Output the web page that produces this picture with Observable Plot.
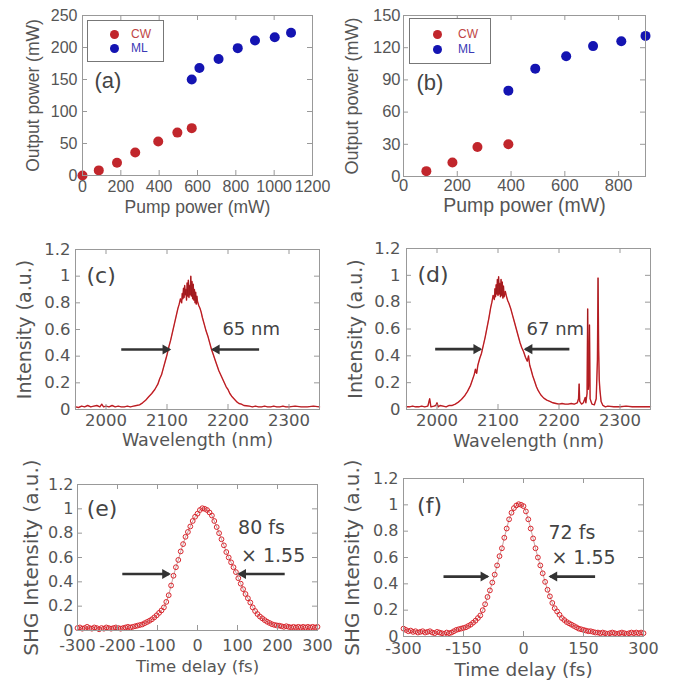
<!DOCTYPE html>
<html><head><meta charset="utf-8">
<script src="https://cdn.jsdelivr.net/npm/d3@7"></script>
<script src="https://cdn.jsdelivr.net/npm/@observablehq/plot@0.6"></script>
<style>
body{margin:0;background:#fff;}
#fig{position:relative;width:674px;height:683px;overflow:hidden;background:#fff;}
.panel{position:absolute;}
.legend{position:absolute;border:1px solid #777;background:#fff;font-family:"Liberation Sans",Arial,sans-serif;font-size:12px;}
.legend .dot{position:absolute;width:9px;height:9px;border-radius:50%;}
.legend .lab{position:absolute;line-height:12px;}
</style></head><body><div id="fig"></div>
<script>
// ---------- data ----------
const aCwPump = [0, 85, 180, 275, 395, 495, 570];
const aCwOut  = [0, 8, 20, 36, 53, 67, 74];
const aMlPump = [570, 610, 710, 810, 900, 1003, 1088];
const aMlOut  = [150, 168, 182, 199, 211, 216, 223];

const bCwPump = [85, 182, 275, 390];
const bCwOut  = [5, 13, 27.5, 30];
const bMlPump = [390, 490, 605, 705, 810, 900];
const bMlOut  = [80, 100.5, 112, 121.5, 126, 131];

const seriesNames = ["CW", "ML"];

const aXTicks = [0, 200, 400, 600, 800, 1000, 1200];
const aYTicks = [0, 50, 100, 150, 200, 250];
const bXTicks = [0, 200, 400, 600, 800];
const bYTicks = [0, 30, 60, 90, 120, 150];
const specXTicks = [2000, 2100, 2200, 2300];
const unitYTicks = [0, 0.2, 0.4, 0.6, 0.8, 1, 1.2];
const eXTicks = [-300, -200, -100, 0, 100, 200, 300];
const fXTicks = [-300, -150, 0, 150, 300];

const cSpectrum = [[1950,0.02],[1955,0.015],[1960,0.025],[1965,0.02],[1970,0.03],[1975,0.02],[1980,0.025],[1985,0.03],[1990,0.02],[1993,0.04],[1996,0.02],[2000,0.025],[2005,0.02],[2010,0.03],[2015,0.02],[2020,0.025],[2025,0.02],[2030,0.02],[2035,0.025],[2040,0.02],[2045,0.025],[2050,0.03],[2055,0.035],[2060,0.05],[2065,0.07],[2070,0.095],[2075,0.12],[2080,0.15],[2085,0.19],[2088,0.23],[2091,0.26],[2094,0.31],[2097,0.36],[2100,0.41],[2103,0.47],[2106,0.52],[2109,0.58],[2112,0.64],[2115,0.70],[2118,0.76],[2120,0.79],[2122,0.83],[2124,0.80],[2125,0.87],[2126,0.83],[2127,0.91],[2128,0.84],[2129,0.93],[2130,0.86],[2131,0.90],[2132,0.82],[2133,0.95],[2134,0.85],[2135,0.97],[2136,0.84],[2137,0.93],[2138,0.86],[2139,1.0],[2140,0.85],[2141,0.96],[2142,0.83],[2143,0.94],[2144,0.82],[2145,0.90],[2146,0.80],[2147,0.88],[2148,0.79],[2149,0.85],[2150,0.81],[2152,0.78],[2154,0.76],[2156,0.73],[2158,0.69],[2161,0.64],[2164,0.59],[2167,0.55],[2170,0.50],[2173,0.45],[2176,0.41],[2179,0.37],[2182,0.33],[2185,0.29],[2188,0.26],[2191,0.23],[2194,0.20],[2197,0.17],[2200,0.15],[2203,0.12],[2206,0.10],[2209,0.085],[2212,0.07],[2215,0.055],[2218,0.045],[2222,0.04],[2226,0.03],[2230,0.028],[2235,0.025],[2240,0.02],[2245,0.025],[2250,0.02],[2255,0.02],[2260,0.025],[2265,0.02],[2270,0.02],[2275,0.025],[2280,0.02],[2285,0.02],[2290,0.025],[2295,0.02],[2300,0.02],[2310,0.025],[2320,0.02],[2330,0.02],[2340,0.025],[2350,0.02]];

const dSpectrum = [[1950,0.02],[1955,0.02],[1960,0.025],[1965,0.02],[1970,0.02],[1975,0.025],[1980,0.02],[1985,0.025],[1988,0.08],[1990,0.02],[1995,0.025],[1998,0.03],[2000,0.05],[2002,0.02],[2005,0.03],[2010,0.025],[2015,0.02],[2020,0.03],[2025,0.03],[2030,0.04],[2035,0.055],[2040,0.075],[2045,0.1],[2050,0.135],[2055,0.18],[2058,0.22],[2061,0.26],[2063,0.30],[2065,0.27],[2067,0.33],[2070,0.38],[2073,0.42],[2076,0.48],[2079,0.54],[2082,0.61],[2085,0.68],[2088,0.76],[2090,0.80],[2092,0.85],[2094,0.82],[2095,0.90],[2096,0.84],[2097,0.93],[2098,0.86],[2099,0.97],[2100,0.85],[2101,0.99],[2102,0.86],[2103,0.94],[2104,0.84],[2105,0.97],[2106,0.85],[2107,0.95],[2108,0.83],[2109,0.92],[2110,0.84],[2112,0.88],[2114,0.84],[2116,0.81],[2118,0.79],[2121,0.75],[2124,0.70],[2127,0.65],[2130,0.60],[2133,0.55],[2136,0.50],[2139,0.46],[2142,0.43],[2145,0.39],[2148,0.36],[2150,0.40],[2152,0.33],[2154,0.30],[2157,0.25],[2160,0.21],[2163,0.17],[2166,0.14],[2170,0.11],[2175,0.085],[2180,0.07],[2185,0.06],[2190,0.05],[2195,0.045],[2200,0.04],[2205,0.045],[2210,0.04],[2215,0.04],[2220,0.045],[2225,0.04],[2230,0.05],[2232,0.08],[2233,0.19],[2234,0.06],[2237,0.04],[2240,0.05],[2243,0.09],[2244,0.05],[2246,0.12],[2247,0.75],[2248,0.15],[2249,0.2],[2250,0.63],[2251,0.08],[2254,0.04],[2258,0.035],[2261,0.08],[2263,0.37],[2264,0.98],[2265,0.45],[2266,0.22],[2267,0.15],[2269,0.06],[2272,0.03],[2276,0.02],[2280,0.025],[2290,0.02],[2300,0.02],[2310,0.025],[2320,0.02],[2330,0.02],[2340,0.02],[2350,0.02]];

const eTrace = [[-300,0.02],[-294,0.025],[-288,0.015],[-282,0.02],[-276,0.03],[-270,0.02],[-264,0.015],[-258,0.025],[-252,0.02],[-246,0.01],[-240,0.02],[-234,0.015],[-228,0.025],[-222,0.02],[-216,0.015],[-210,0.02],[-204,0.025],[-198,0.02],[-192,0.015],[-186,0.02],[-180,0.025],[-174,0.03],[-168,0.025],[-162,0.03],[-156,0.035],[-150,0.04],[-144,0.045],[-138,0.05],[-132,0.06],[-126,0.07],[-120,0.08],[-114,0.092],[-108,0.108],[-102,0.125],[-96,0.145],[-90,0.165],[-84,0.19],[-78,0.235],[-72,0.29],[-66,0.37],[-60,0.45],[-54,0.52],[-48,0.58],[-42,0.65],[-36,0.71],[-30,0.77],[-24,0.81],[-18,0.855],[-12,0.90],[-6,0.935],[0,0.96],[6,0.99],[12,1.005],[18,1.0],[24,0.99],[30,0.97],[36,0.945],[42,0.90],[48,0.85],[54,0.80],[60,0.75],[66,0.70],[72,0.645],[78,0.60],[84,0.56],[90,0.52],[96,0.48],[102,0.43],[108,0.385],[114,0.34],[120,0.30],[126,0.265],[132,0.23],[138,0.19],[144,0.16],[150,0.135],[156,0.115],[162,0.10],[168,0.085],[174,0.072],[180,0.062],[186,0.052],[192,0.046],[198,0.042],[204,0.04],[210,0.035],[216,0.03],[222,0.035],[228,0.03],[234,0.025],[240,0.03],[246,0.025],[252,0.03],[258,0.025],[264,0.03],[270,0.025],[276,0.03],[282,0.025],[288,0.03],[294,0.025],[300,0.03]];

const fTrace = [[-300,0.06],[-294,0.05],[-288,0.04],[-282,0.045],[-276,0.035],[-270,0.04],[-264,0.03],[-258,0.035],[-252,0.04],[-246,0.03],[-240,0.035],[-234,0.04],[-228,0.03],[-222,0.025],[-216,0.035],[-210,0.03],[-204,0.025],[-198,0.02],[-192,0.03],[-186,0.025],[-180,0.03],[-174,0.04],[-168,0.05],[-162,0.055],[-156,0.06],[-150,0.065],[-144,0.07],[-138,0.08],[-132,0.09],[-126,0.105],[-120,0.12],[-114,0.14],[-108,0.16],[-102,0.20],[-96,0.245],[-90,0.30],[-84,0.35],[-78,0.41],[-72,0.47],[-66,0.54],[-60,0.61],[-54,0.67],[-48,0.75],[-42,0.82],[-36,0.89],[-30,0.94],[-24,0.975],[-18,0.995],[-12,1.005],[-6,1.0],[0,0.99],[6,0.95],[12,0.89],[18,0.82],[24,0.745],[30,0.67],[36,0.60],[42,0.54],[48,0.48],[54,0.415],[60,0.355],[66,0.305],[72,0.255],[78,0.215],[84,0.19],[90,0.165],[96,0.14],[102,0.125],[108,0.11],[114,0.10],[120,0.09],[126,0.08],[132,0.07],[138,0.06],[144,0.055],[150,0.05],[156,0.045],[162,0.04],[168,0.04],[174,0.035],[180,0.03],[186,0.03],[192,0.025],[198,0.03],[204,0.025],[210,0.02],[216,0.025],[222,0.03],[228,0.025],[234,0.02],[240,0.025],[246,0.03],[252,0.025],[258,0.02],[264,0.025],[270,0.03],[276,0.025],[282,0.03],[288,0.025],[294,0.03],[300,0.025]];

// FWHM arrows: [from, to, level]
const cArrows = [[2025, 2104, 0.45], [2251, 2175, 0.45]];
const dArrows = [[1997, 2071, 0.45], [2217, 2145, 0.45]];
const eArrows = [[-188, -71, 0.465], [218, 104, 0.465]];
const fArrows = [[-200, -90, 0.455], [179, 67, 0.455]];

// annotations: [text, x, y]
const cNotes = [["65 nm", 2238, 0.6]];
const dNotes = [["67 nm", 2194, 0.6]];
const eNotes = [["80 fs", 160, 0.846], ["\u00d7 1.55", 189, 0.615]];
const fNotes = [["72 fs", 121, 0.79], ["\u00d7 1.55", 150, 0.60]];

// panel labels: [text, x, y]
const aTag = ["(a)", 62, 148];
const bTag = ["(b)", 48, 87];
const cTag = ["(c)", 1968, 1.0];
const dTag = ["(d)", 1968, 1.0];
const eTag = ["(e)", -277, 1.0];
const fTag = ["(f)", -266, 0.995];

// ---------- drawing ----------
const GRAY = "#555";
const FRAME = "#999";
const RED = "#d9262d";
const CW = "#c1262c";
const ML = "#1414b2";
const ARROW = "#333";
const fig = document.getElementById("fig");
const fmt = d => String(d);

function panel(o) {
  const innerW = o.width - o.ml - o.mr;
  const innerH = o.height - o.mt - o.mb;
  const marks = [
    ...o.marks,
    Plot.frame({stroke: FRAME}),
    Plot.tickX(o.xTicks, {x: d => d, insetTop: innerH - 5, stroke: FRAME}),
    Plot.tickX(o.xTicks, {x: d => d, insetBottom: innerH - 5, stroke: FRAME}),
    Plot.tickY(o.yTicks, {y: d => d, insetRight: innerW - 5, stroke: FRAME}),
    Plot.tickY(o.yTicks, {y: d => d, insetLeft: innerW - 5, stroke: FRAME}),
    Plot.axisX({ticks: o.xTicks, tickSize: 0, tickPadding: o.xPad, tickFormat: fmt, fontSize: o.tickFont, label: null, fill: GRAY}),
    Plot.axisY({ticks: o.yTicks, tickSize: 0, tickPadding: o.yPad, tickFormat: fmt, fontSize: o.tickFont, label: null, fill: GRAY}),
    Plot.text([o.xLabel], {frameAnchor: "bottom", lineAnchor: "middle", textAnchor: "middle", dy: o.xLabelDy, fontSize: o.xLabelFont, fill: GRAY}),
    Plot.text([o.yLabel], {frameAnchor: "left", lineAnchor: "middle", textAnchor: "middle", rotate: -90, dx: o.yLabelDx, fontSize: o.yLabelFont, fill: GRAY}),
    Plot.text([o.tag], {x: d => d[1], y: d => d[2], text: d => d[0], textAnchor: "start", fontSize: 22, fill: "#444"})
  ];
  const svg = Plot.plot({
    width: o.width, height: o.height,
    marginLeft: o.ml, marginRight: o.mr, marginTop: o.mt, marginBottom: o.mb,
    x: {domain: o.xDomain}, y: {domain: o.yDomain},
    style: {fontFamily: o.font, color: GRAY, background: "transparent", overflow: "visible"},
    marks
  });
  const wrap = document.createElement("div");
  wrap.className = "panel";
  wrap.style.left = o.left + "px";
  wrap.style.top = o.top + "px";
  wrap.appendChild(svg);
  fig.appendChild(wrap);
}

function scatterMarks(cwX, cwY, mlX, mlY) {
  const pts = [
    ...cwX.map((x, i) => ({x, y: cwY[i], s: seriesNames[0]})),
    ...mlX.map((x, i) => ({x, y: mlY[i], s: seriesNames[1]}))
  ];
  return [Plot.dot(pts, {x: "x", y: "y", r: 5, fill: d => d.s === "CW" ? CW : ML})];
}

function arrowMarks(arr) {
  const right = arr.filter(d => d[1] > d[0]);
  const left = arr.filter(d => d[1] < d[0]);
  return [
    Plot.link(arr, {x1: d => d[0], x2: d => d[1], y1: d => d[2], y2: d => d[2], stroke: ARROW, strokeWidth: 2.6}),
    Plot.dot(right, {x: d => d[1], y: d => d[2], symbol: "triangle2", r: 4.8, rotate: 90, fill: ARROW, dx: -4}),
    Plot.dot(left, {x: d => d[1], y: d => d[2], symbol: "triangle2", r: 4.8, rotate: -90, fill: ARROW, dx: 4})
  ];
}

function noteMarks(notes, size) {
  return [Plot.text(notes, {x: d => d[1], y: d => d[2], text: d => d[0], fontSize: size, fill: "#444"})];
}

function spectrumMarks(data) {
  return [
    Plot.line(data, {x: d => d[0], y: d => d[1], stroke: RED, strokeWidth: 1.4}),
    Plot.line(data, {x: d => d[0], y: d => d[1], stroke: "#6a1414", strokeWidth: 0.6, strokeOpacity: 0.6})
  ];
}

function traceMarks(data) {
  return [
    Plot.line(data, {x: d => d[0], y: d => d[1], stroke: "#7a1a1a", strokeWidth: 0.7, strokeOpacity: 0.6}),
    Plot.dot(data, {x: d => d[0], y: d => d[1], r: 2.4, stroke: RED, strokeWidth: 1, fill: "none"})
  ];
}

const SANS = "'Liberation Sans', Arial, sans-serif";
const WIDE = "'DejaVu Sans', sans-serif";

panel({left: 0, top: 0, width: 337, height: 230, ml: 82, mr: 25, mt: 15, mb: 55,
  xDomain: [0, 1200], yDomain: [0, 250], xTicks: aXTicks, yTicks: aYTicks,
  font: SANS, tickFont: 16, xPad: 5, yPad: 5,
  xLabel: "Pump power (mW)", yLabel: "Output power (mW)", xLabelDy: 32, yLabelDx: -49, xLabelFont: 17.5, yLabelFont: 17.5,
  tag: aTag, marks: scatterMarks(aCwPump, aCwOut, aMlPump, aMlOut)});

panel({left: 337, top: 0, width: 337, height: 230, ml: 66, mr: 29, mt: 15, mb: 54,
  xDomain: [0, 900], yDomain: [0, 150], xTicks: bXTicks, yTicks: bYTicks,
  font: SANS, tickFont: 16.5, xPad: 3, yPad: 3,
  xLabel: "Pump power (mW)", yLabel: "Output power (mW)", xLabelDy: 29, yLabelDx: -51, xLabelFont: 19.5, yLabelFont: 18,
  tag: bTag, marks: scatterMarks(bCwPump, bCwOut, bMlPump, bMlOut)});

panel({left: 0, top: 230, width: 337, height: 230, ml: 75, mr: 18, mt: 19, mb: 51,
  xDomain: [1950, 2350], yDomain: [0, 1.2], xTicks: specXTicks, yTicks: unitYTicks,
  font: WIDE, tickFont: 16.5, xPad: 5, yPad: 5,
  xLabel: "Wavelength (nm)", yLabel: "Intensity (a.u.)", xLabelDy: 31, yLabelDx: -51, xLabelFont: 17.5, yLabelFont: 19,
  tag: cTag, marks: [...spectrumMarks(cSpectrum), ...arrowMarks(cArrows), ...noteMarks(cNotes, 18)]});

panel({left: 337, top: 230, width: 337, height: 230, ml: 69, mr: 24, mt: 18, mb: 51,
  xDomain: [1950, 2350], yDomain: [0, 1.2], xTicks: specXTicks, yTicks: unitYTicks,
  font: WIDE, tickFont: 16.5, xPad: 5, yPad: 6,
  xLabel: "Wavelength (nm)", yLabel: "Intensity (a.u.)", xLabelDy: 32, yLabelDx: -51, xLabelFont: 17.5, yLabelFont: 19,
  tag: dTag, marks: [...spectrumMarks(dSpectrum), ...arrowMarks(dArrows), ...noteMarks(dNotes, 18)]});

panel({left: 0, top: 460, width: 337, height: 223, ml: 77, mr: 20, mt: 24, mb: 53,
  xDomain: [-300, 300], yDomain: [0, 1.2], xTicks: eXTicks, yTicks: unitYTicks,
  font: WIDE, tickFont: 16, xPad: 9, yPad: 4,
  xLabel: "Time delay (fs)", yLabel: "SHG Intensity (a.u.)", xLabelDy: 36, yLabelDx: -46, xLabelFont: 16.5, yLabelFont: 20,
  tag: eTag, marks: [...traceMarks(eTrace), ...arrowMarks(eArrows), ...noteMarks(eNotes, 19)]});

panel({left: 337, top: 460, width: 337, height: 223, ml: 66, mr: 31, mt: 18, mb: 47,
  xDomain: [-300, 300], yDomain: [0, 1.2], xTicks: fXTicks, yTicks: unitYTicks,
  font: WIDE, tickFont: 16, xPad: 6, yPad: 5,
  xLabel: "Time delay (fs)", yLabel: "SHG Intensity (a.u.)", xLabelDy: 34, yLabelDx: -51, xLabelFont: 18.5, yLabelFont: 20,
  tag: fTag, marks: [...traceMarks(fTrace), ...arrowMarks(fArrows), ...noteMarks(fNotes, 19)]});

// legends for (a) and (b)
function legend(left, top, w, h, dotX, textX, rowY) {
  const div = document.createElement("div");
  div.className = "legend";
  Object.assign(div.style, {left: left + "px", top: top + "px", width: w + "px", height: h + "px"});
  seriesNames.forEach((name, i) => {
    const col = name === "CW" ? CW : ML;
    const dot = document.createElement("div");
    dot.className = "dot";
    Object.assign(dot.style, {left: (dotX - 4.5) + "px", top: (rowY[i] - 4.5) + "px", background: col});
    const lab = document.createElement("div");
    lab.className = "lab";
    lab.textContent = name;
    Object.assign(lab.style, {left: textX + "px", top: (rowY[i] - 6) + "px", color: name === "CW" ? "#c04545" : "#3a3ab5"});
    div.appendChild(dot); div.appendChild(lab);
  });
  fig.appendChild(div);
}
legend(87, 20, 75, 40, 26, 43, [13, 27]);
legend(409, 18, 80, 44, 27, 48, [15, 30]);
</script></body></html>
